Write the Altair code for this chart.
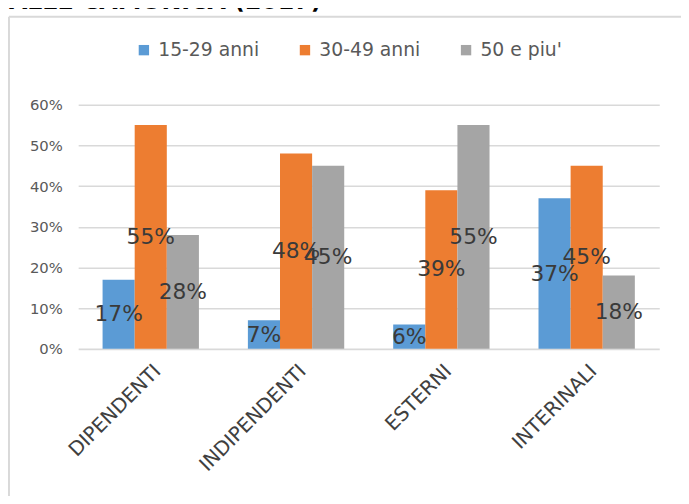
import altair as alt
import pandas as pd

categories = ["DIPENDENTI", "INDIPENDENTI", "ESTERNI", "INTERINALI"]
series = ["15-29 anni", "30-49 anni", "50 e piu'"]
v_15_29 = [0.17, 0.07, 0.06, 0.37]
v_30_49 = [0.55, 0.48, 0.39, 0.45]
v_50 = [0.28, 0.45, 0.55, 0.18]
colors = ["#5B9BD5", "#ED7D31", "#A5A5A5"]
y_ticks = [0, 0.1, 0.2, 0.3, 0.4, 0.5, 0.6]
title_text = "VALLE CAMONICA (2017)"

rows = []
for s, vals in zip(series, [v_15_29, v_30_49, v_50]):
    for c, v in zip(categories, vals):
        rows.append({"cat": c, "serie": s, "v": v})
df = pd.DataFrame(rows)

FONT = "DejaVu Sans"

x_enc = alt.X("cat:N", sort=categories, title=None,
              scale=alt.Scale(paddingInner=0.337, paddingOuter=0.168),
              axis=alt.Axis(labelAngle=-45, labelAlign="right", labelBaseline="top",
                            labelPadding=12, labelFontSize=20, labelColor="#404040",
                            labelFont=FONT, domain=False, ticks=False, grid=False,
                            labelLimit=300))
xo_enc = alt.XOffset("serie:N", sort=series, scale=alt.Scale(paddingInner=0, paddingOuter=0))

bars = alt.Chart(df).mark_bar().encode(
    x=x_enc,
    xOffset=xo_enc,
    y=alt.Y("v:Q", title=None,
            scale=alt.Scale(domain=[0, 0.6], nice=False),
            axis=alt.Axis(values=y_ticks, format=".0%", labelFontSize=15, labelColor="#595959",
                          labelFont=FONT, labelPadding=16, domain=False, ticks=False,
                          grid=True, gridColor="#D9D9D9", gridWidth=1.6)),
    color=alt.Color("serie:N", sort=series,
                    scale=alt.Scale(domain=series, range=colors),
                    legend=alt.Legend(title=None, orient="none", direction="horizontal",
                                      legendX=57, legendY=-65, symbolType="square",
                                      symbolSize=110, symbolStrokeWidth=0,
                                      labelFontSize=19, labelFont=FONT, labelColor="#595959",
                                      labelOffset=5, columnPadding=36, padding=0,
                                      labelLimit=300)),
)

labels = alt.Chart(df).transform_calculate(mid="datum.v / 2").mark_text(
    fontSize=22, font=FONT, color="#3A3A3A", baseline="middle", align="center"
).encode(
    x=alt.X("cat:N", sort=categories),
    xOffset=alt.XOffset("serie:N", sort=series),
    y=alt.Y("mid:Q"),
    text=alt.Text("v:Q", format=".0%"),
)

dummy = pd.DataFrame({"k": [0]})
top_border = alt.Chart(dummy).mark_rule(color="#D9D9D9", strokeWidth=2).encode(
    x=alt.value(-70), x2=alt.value(620), y=alt.value(-89))
left_border = alt.Chart(dummy).mark_rule(color="#D9D9D9", strokeWidth=2).encode(
    x=alt.value(-70), y=alt.value(-89), y2=alt.value(401))
title = alt.Chart(dummy).mark_text(
    text=title_text, fontSize=24, fontWeight="bold", font=FONT, color="#000000",
    align="left", baseline="alphabetic"
).encode(x=alt.value(-87), y=alt.value(-97))

chart = alt.layer(top_border, left_border, title, bars, labels).properties(
    width=588, height=247,
    autosize=alt.AutoSizeParams(type="none"),
    padding={"left": 71, "top": 95, "right": 22, "bottom": 146},
).configure_view(stroke=None).configure_scale(bandPaddingInner=0)

chart.save("out.html", embed_options={"renderer": "svg", "actions": False})
